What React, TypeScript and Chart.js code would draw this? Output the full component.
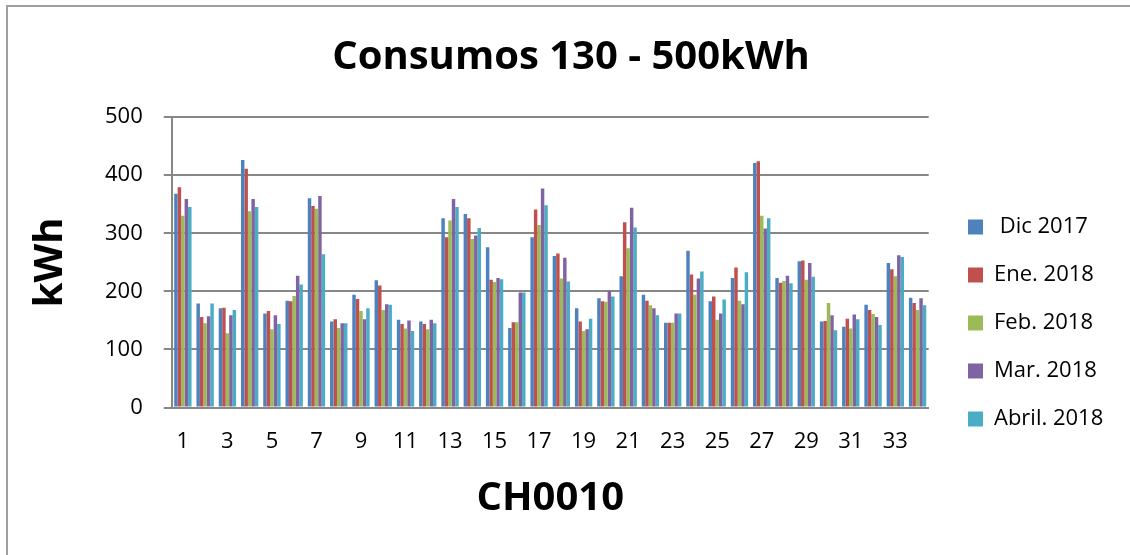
import React, { useEffect, useRef } from "react";
import { Chart, registerables } from "chart.js";

Chart.register(...registerables);

const categories = ["1","2","3","4","5","6","7","8","9","10","11","12","13","14","15","16","17","18","19","20","21","22","23","24","25","26","27","28","29","30","31","32","33","34"];

const dic2017 = [368,179,171,426,162,184,360,148,194,219,151,148,326,333,276,137,293,261,171,188,226,194,146,270,183,223,421,223,252,148,139,177,249,189];
const ene2018 = [379,156,172,411,166,183,347,152,187,210,144,144,293,326,220,147,341,265,148,183,319,184,146,229,191,241,424,215,253,149,153,168,238,180];
const feb2018 = [330,145,128,338,135,192,342,137,166,168,136,135,322,290,216,147,314,222,132,182,274,176,146,194,151,184,330,218,220,180,136,161,226,168];
const mar2018 = [359,157,159,359,159,227,364,145,152,178,150,151,359,296,223,198,377,258,135,201,344,171,162,222,162,178,308,227,249,159,160,156,262,188];
const abr2018 = [345,179,168,345,144,212,264,145,171,177,132,145,345,309,221,198,348,217,153,191,310,159,162,234,186,233,326,214,225,133,152,142,259,176];

const seriesNames = [" Dic 2017", "Ene. 2018", "Feb. 2018", "Mar. 2018", "Abril. 2018"];
const seriesColors = ["#4F81BD", "#C0504D", "#9BBB59", "#8064A2", "#4BACC6"];
const yTicks = [0, 100, 200, 300, 400, 500];

const FONT = "'Open Sans', 'DejaVu Sans', sans-serif";
const GRID = "#878787";

const placeBoxes = {
  id: "placeBoxes",
  beforeDraw(chart: any) {
    const lg = chart.legend;
    if (lg) {
      const w = lg.right - lg.left;
      const h = lg.bottom - lg.top;
      lg.left = 942;
      lg.right = 942 + w;
      lg.top = 190;
      lg.bottom = 190 + h;
    }
    const t = chart.titleBlock;
    if (t) {
      const w = t.right - t.left;
      t.left = 571 - w / 2;
      t.right = 571 + w / 2;
    }
  },
};

export default function App() {
  const ref = useRef<HTMLCanvasElement | null>(null);

  useEffect(() => {
    if (!ref.current) return;
    const all = [dic2017, ene2018, feb2018, mar2018, abr2018];
    const chart = new Chart(ref.current, {
      type: "bar",
      data: {
        labels: categories,
        datasets: all.map((d, i) => ({
          label: seriesNames[i],
          data: d,
          backgroundColor: seriesColors[i],
          borderWidth: 0,
          categoryPercentage: 0.78,
          barPercentage: 1,
        })),
      },
      options: {
        responsive: false,
        animation: false,
        devicePixelRatio: 1,
        layout: { padding: { left: 20, right: 30, top: 0, bottom: 0 } },
        plugins: {
          tooltip: { enabled: false },
          title: {
            display: true,
            text: "Consumos 130 - 500kWh",
            color: "#000",
            font: { family: FONT, size: 40, weight: "bold" },
            padding: { top: 34, bottom: 35 },
          },
          legend: {
            display: true,
            position: "right",
            align: "start",
            labels: {
              color: "#000",
              font: { family: FONT, size: 22 },
              boxWidth: 15,
              boxHeight: 15,
              padding: 26,
            },
          },
        },
        scales: {
          x: {
            grid: { display: false, drawTicks: false },
            border: { display: true, color: GRID, width: 2 },
            ticks: {
              color: "#000",
              font: { family: FONT, size: 22 },
              autoSkip: false,
              maxRotation: 0,
              padding: 21,
              callback: (_v: any, i: number) => (i % 2 === 0 ? categories[i] : ""),
            },
            title: {
              display: true,
              text: "CH0010",
              color: "#000",
              font: { family: FONT, size: 40, weight: "bold", lineHeight: 1 },
              padding: { top: 3, bottom: 36 },
            },
          },
          y: {
            min: yTicks[0],
            max: yTicks[yTicks.length - 1],
            ticks: {
              stepSize: 100,
              color: "#000",
              font: { family: FONT, size: 22 },
              padding: 21,
            },
            grid: { color: GRID, lineWidth: 2, tickLength: 8, drawTicks: true },
            border: { display: true, color: GRID, width: 2 },
            title: {
              display: true,
              text: "kWh",
              color: "#000",
              font: { family: FONT, size: 40, weight: "bold" },
              padding: { top: 7, bottom: 9 },
            },
          },
        },
      },
      plugins: [placeBoxes],
    });
    return () => chart.destroy();
  }, []);

  return (
    <div style={{ position: "fixed", left: 0, top: 0, width: 1130, height: 555, overflow: "hidden", background: "#fff" }}>
      <div
        style={{
          position: "absolute",
          left: 6,
          top: 5,
          width: 1300,
          height: 700,
          borderLeft: "2px solid #a0a0a0",
          borderTop: "2px solid #a0a0a0",
        }}
      />
      <canvas ref={ref} width={1130} height={555} style={{ position: "absolute", left: 0, top: 0 }} />
    </div>
  );
}
